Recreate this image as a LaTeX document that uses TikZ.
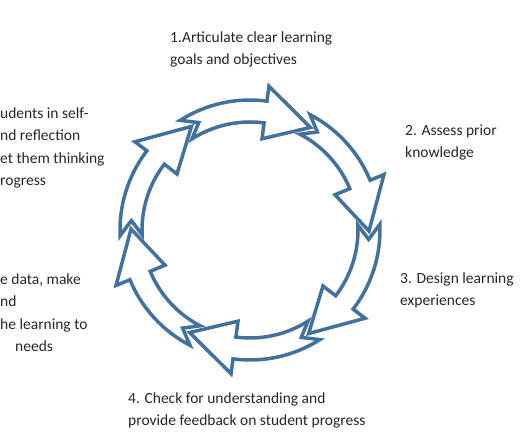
\documentclass[tikz,border=0pt]{standalone}
\usepackage{fontspec}
\setmainfont{Carlito}
\usetikzlibrary{positioning}

\definecolor{ringblue}{RGB}{65,113,156}
\definecolor{inkgray}{RGB}{38,38,38}

\begin{document}
\begin{tikzpicture}[
    x=1pt, y=1pt,
    every node/.style={font=\fontsize{15.5}{22.5}\selectfont, text=inkgray},
    stepnote/.style={align=left, inner sep=0pt, anchor=base west},
    ringarrow/.style={draw=ringblue, fill=white, line width=3.5pt, line join=miter}
]
\useasboundingbox (0,0) rectangle (530,443);

% ring of six arrows, clockwise
\begin{scope}[shift={(250,213)}]
\foreach \s in {122.5,62.5,2.5,-57.5,-117.5,-177.5}{
  \draw[ringarrow] (\s:130) arc[start angle=\s, end angle={\s-40}, radius=130]
    -- ({\s-40}:145) -- ({\s-63}:119) -- ({\s-40}:92) -- ({\s-40}:108)
    arc[start angle={\s-40}, end angle=\s, radius=108]
    -- ({\s-7}:119) -- cycle;
}
\end{scope}

% step texts (base = last line)
\node[stepnote] (goals) at (170,378) {1.Articulate clear learning\\goals and objectives};
\node[stepnote] (prior) at (405,285) {2. Assess prior\\knowledge};
\node[stepnote] (design) at (400,137) {3. Design learning\\experiences};
\node[stepnote] (check) at (128,17) {4. Check for understanding and\\provide feedback on student progress};
\node[stepnote] (data) at (0,91) {e data, make\\nd\\he learning to\\\hspace*{15pt}needs};
\node[stepnote] (self) at (0,257) {udents in self-\\nd reflection\\et them thinking\\rogress};
\end{tikzpicture}
\end{document}
